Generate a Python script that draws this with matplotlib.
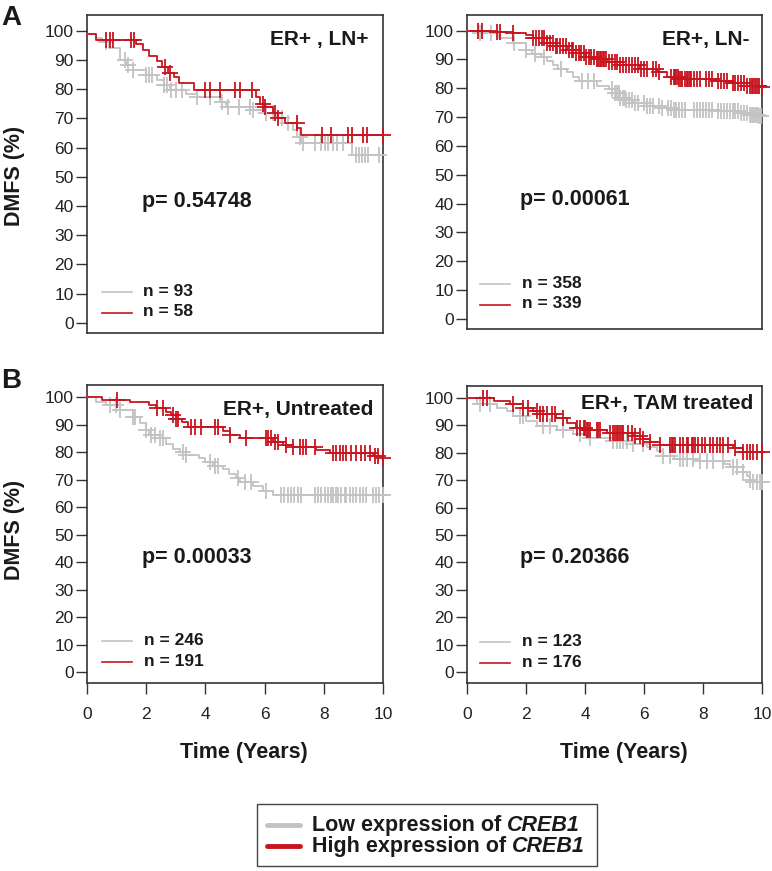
import numpy as np
import matplotlib
matplotlib.use('Agg')
import matplotlib.pyplot as plt
from matplotlib.lines import Line2D
from matplotlib.patches import Rectangle

plt.rcParams['font.family'] = ['Liberation Sans', 'DejaVu Sans']

W, H = 772, 871
fig = plt.figure(figsize=(W / 100, H / 100), dpi=100)

GREY = '#c3c3c3'
RED = '#c8141e'
TXT = '#1a1a1a'
SPINE = '#333333'

# ---------------- data ----------------
titles = ['ER+ , LN+', 'ER+, LN-', 'ER+, Untreated', 'ER+, TAM treated']
pvals = ['0.54748', '0.00061', '0.00033', '0.20366']
n_low = [93, 358, 246, 123]
n_high = [58, 339, 191, 176]
yticks = [0, 10, 20, 30, 40, 50, 60, 70, 80, 90, 100]
xticks = [0, 2, 4, 6, 8, 10]

# Panel A left: ER+, LN+
a1_low_t = [0, 0.3, 0.5, 0.75, 1.1, 1.35, 1.55, 2.0, 2.35, 2.6, 2.8, 3.35, 3.7, 4.5, 4.7, 5.6, 5.95, 6.4, 6.7, 6.95, 7.1, 7.24, 8.95]
a1_low_s = [99, 97.5, 96, 94, 90, 88.2, 86.5, 84.8, 83, 81.4, 79.7, 78.5, 77.2, 75.7, 74.0, 72.8, 71.7, 70.0, 68.3, 66.0, 63.7, 61.4, 57.5]
a1_low_c = [0.65, 1.3, 1.4, 1.55, 2.0, 2.1, 2.2, 2.6, 2.7, 2.85, 3.0, 3.2, 3.7, 4.15, 4.55, 4.75, 5.15, 5.5, 5.6, 6.05, 6.3, 6.6, 6.8, 7.2, 7.3, 7.7, 7.9, 8.05, 8.15, 8.3, 8.45, 8.65, 9.1, 9.2, 9.3, 9.4, 9.5, 9.85]
a1_high_t = [0, 0.3, 1.67, 1.9, 2.1, 2.35, 2.55, 2.75, 2.95, 3.1, 3.6, 5.7, 5.85, 6.0, 6.3, 6.45, 6.7, 7.1, 7.24]
a1_high_s = [99, 97.0, 95.4, 93.4, 91.3, 89.5, 87.5, 85.5, 84.0, 82.0, 79.7, 77.4, 75.0, 74.0, 71.7, 70.0, 68.3, 66.6, 64.3]
a1_high_c = [0.63, 0.77, 0.88, 1.48, 1.58, 2.65, 2.82, 4.0, 4.15, 4.48, 5.0, 5.17, 5.57, 5.93, 6.01, 6.35, 6.45, 7.08, 7.93, 8.26, 8.82, 8.94, 9.33, 9.45, 10.0]

# Panel A right: ER+, LN-
a2_low_t = [0, 0.44, 1.1, 1.57, 2.0, 2.2, 2.5, 2.7, 2.9, 3.1, 3.4, 3.6, 3.8, 4.4, 4.8, 5.0, 5.2, 5.4, 5.64, 6.1, 6.55, 7.0, 8.35, 9.25, 9.6, 9.9]
a2_low_s = [100, 99, 97.4, 95.6, 93.3, 92, 90.9, 89.5, 88, 86.8, 85.6, 84, 82.6, 80.9, 79.6, 78.5, 76.7, 75.8, 75, 73.8, 73.2, 72.6, 72.1, 71.4, 70.8, 70.2]
a2_low_c = [0.45, 0.8, 1.6, 2.0, 2.3, 2.6, 3.2, 3.9, 4.1, 4.3, 4.9, 5.0, 5.1, 5.15, 5.2, 5.3, 5.35, 5.4, 5.5, 5.6, 5.7, 5.8, 6.0, 6.1, 6.2, 6.3, 6.5, 6.6, 6.8, 6.9, 7.0, 7.1, 7.2, 7.3, 7.4, 7.7, 7.8, 7.9, 8.0, 8.1, 8.2, 8.3, 8.5, 8.6, 8.7, 8.8, 8.9, 9.0, 9.1, 9.2, 9.3, 9.4, 9.5, 9.6, 9.65, 9.7, 9.75, 9.8, 9.85, 9.9, 9.95]
a2_high_t = [0, 1.0, 1.57, 2.0, 2.25, 2.7, 3.0, 3.4, 3.7, 4.05, 4.4, 4.73, 5.2, 5.86, 6.43, 6.77, 7.2, 8.35, 9.0, 9.5, 9.93]
a2_high_s = [100, 99.6, 99.2, 98.3, 97.4, 95.6, 94.5, 93.3, 92.1, 90.9, 90.0, 89.1, 88, 86.8, 85.6, 84, 83.2, 82.6, 81.7, 80.9, 80.3]
a2_high_c = [0.38, 0.5, 1.0, 1.12, 1.57, 2.25, 2.35, 2.45, 2.55, 2.62, 2.7, 2.8, 2.9, 3.0, 3.05, 3.15, 3.25, 3.35, 3.45, 3.55, 3.6, 3.7, 3.8, 3.85, 3.95, 4.05, 4.15, 4.2, 4.3, 4.4, 4.45, 4.5, 4.55, 4.6, 4.65, 4.7, 4.8, 4.9, 5.0, 5.1, 5.2, 5.3, 5.4, 5.5, 5.6, 5.7, 5.8, 5.9, 6.0, 6.1, 6.3, 6.4, 6.5, 6.9, 7.0, 7.05, 7.1, 7.15, 7.2, 7.25, 7.3, 7.4, 7.45, 7.5, 7.55, 7.6, 7.7, 7.8, 7.9, 8.1, 8.2, 8.3, 8.5, 8.6, 8.7, 8.8, 9.0, 9.1, 9.2, 9.3, 9.4, 9.5, 9.6, 9.65, 9.7, 9.75, 9.8, 9.85, 9.9, 10.0]

# Panel B left: ER+, Untreated
b1_low_t = [0, 0.3, 0.65, 1.1, 1.55, 1.78, 2.0, 2.1, 2.45, 2.68, 2.9, 3.13, 3.35, 3.8, 4.0, 4.25, 4.6, 4.8, 5.05, 5.16, 5.6, 5.95, 6.28]
b1_low_s = [100, 98.3, 97.1, 95.3, 92.8, 90.4, 88, 86.2, 85, 83.1, 81.3, 80.1, 78.9, 77.7, 76.5, 74.9, 73.7, 72.2, 70.4, 69.2, 67.6, 65.9, 64.4]
b1_low_c = [0.77, 0.99, 1.1, 1.55, 1.61, 2.0, 2.17, 2.29, 2.45, 2.57, 3.24, 3.35, 4.14, 4.31, 4.43, 5.1, 5.33, 5.55, 6.06, 6.56, 6.67, 6.79, 6.9, 7.0, 7.13, 7.24, 7.69, 7.8, 7.92, 8.03, 8.14, 8.25, 8.31, 8.42, 8.48, 8.59, 8.7, 8.76, 8.87, 8.99, 9.1, 9.21, 9.32, 9.44, 9.66, 9.77, 9.88, 10.0]
b1_high_t = [0, 0.5, 1.44, 2.1, 2.34, 2.68, 2.85, 3.0, 3.2, 3.4, 4.6, 4.82, 5.16, 6.28, 6.62, 6.96, 7.75, 8.2, 9.66, 9.98]
b1_high_s = [100, 98.9, 98.3, 97.1, 95.9, 94.7, 93.5, 92.2, 91, 89.2, 87.8, 86.2, 85, 83.8, 82.5, 81.7, 80.7, 79.5, 78.7, 77.7]
b1_high_c = [1.0, 2.35, 2.57, 2.9, 3.0, 3.07, 3.5, 3.64, 3.86, 4.31, 4.42, 4.82, 5.38, 6.06, 6.12, 6.23, 6.34, 6.45, 6.73, 6.96, 7.18, 7.3, 7.41, 7.69, 8.31, 8.42, 8.54, 8.65, 8.76, 8.93, 9.1, 9.27, 9.38, 9.55, 9.72, 9.83, 10.0]

# Panel B right: ER+, TAM treated
b2_low_t = [0, 0.33, 1.0, 1.34, 1.57, 2.0, 2.36, 3.04, 3.6, 4.05, 4.96, 5.64, 6.1, 6.43, 6.65, 7.0, 7.9, 8.7, 8.9, 9.37, 9.49, 9.6, 9.71]
b2_low_s = [100, 97.7, 96.5, 95.3, 93.5, 91.6, 89.8, 88.2, 86.8, 85.6, 84.4, 83.4, 82.2, 80.7, 78.9, 77.7, 77.1, 75.9, 74.7, 73.1, 71.6, 70, 69.2]
b2_low_c = [0.44, 0.78, 1.8, 1.91, 2.59, 2.81, 3.27, 3.83, 4.17, 4.96, 5.07, 5.19, 5.3, 5.41, 5.64, 5.98, 6.65, 6.88, 7.22, 7.33, 7.45, 7.67, 7.9, 8.12, 8.35, 8.69, 9.03, 9.14, 9.37, 9.6, 9.71, 9.83, 9.94, 10.0]
b2_high_t = [0, 0.9, 1.46, 1.9, 2.25, 2.47, 3.0, 3.38, 3.7, 4.05, 4.73, 5.64, 5.98, 6.2, 6.54, 9.03, 9.37]
b2_high_s = [100, 98.9, 97.7, 96.5, 95.3, 94, 92.8, 91, 89.2, 88.2, 87.4, 86.2, 85.2, 84, 82.8, 81.7, 80.4]
b2_high_c = [0.55, 0.67, 1.57, 1.91, 2.08, 2.36, 2.47, 2.59, 2.7, 2.87, 2.98, 3.27, 3.72, 3.83, 3.95, 4.0, 4.06, 4.11, 4.17, 4.4, 4.45, 4.51, 4.85, 4.96, 5.02, 5.07, 5.13, 5.19, 5.24, 5.3, 5.47, 5.58, 5.7, 5.86, 5.98, 6.2, 6.54, 6.88, 6.94, 6.99, 7.05, 7.22, 7.33, 7.45, 7.5, 7.62, 7.67, 7.73, 7.84, 7.95, 8.07, 8.24, 8.35, 8.46, 8.58, 8.69, 8.86, 9.08, 9.37, 9.49, 9.6, 9.71, 9.83, 10.0]

curves = [
    (a1_low_t, a1_low_s, a1_low_c, a1_high_t, a1_high_s, a1_high_c),
    (a2_low_t, a2_low_s, a2_low_c, a2_high_t, a2_high_s, a2_high_c),
    (b1_low_t, b1_low_s, b1_low_c, b1_high_t, b1_high_s, b1_high_c),
    (b2_low_t, b2_low_s, b2_low_c, b2_high_t, b2_high_s, b2_high_c),
]

# ---------------- layout (pixels) ----------------
# (left, right, top, bottom, ymin, ymax)
boxes = [
    (87, 383, 15, 333, -3.5, 105.4),
    (467, 762, 15, 329, -3.5, 105.4),
    (87, 383, 385, 683, -4.0, 104.4),
    (467, 762, 386, 683, -4.0, 104.4),
]
title_pos = [(368, 40), (750, 40), (373, 410), (753, 403)]
p_pos = [(142, 202), (520, 200), (142, 558), (520, 558)]
n_pos = [(143, 291, 312), (522, 283, 304), (144, 640, 661), (522, 641, 662)]
line_x = [(102, 132), (480, 510), (102, 132), (480, 510)]


def P(x, y):
    return x / W, 1 - y / H


def km(ax, t, s, cens, color, z):
    t = np.asarray(t, float)
    s = np.asarray(s, float)
    c = np.asarray(cens, float)
    tend = max(c.max(), t.max())
    tt = np.append(t, tend)
    ss = np.append(s, s[-1])
    ax.step(tt, ss, where='post', color=color, lw=1.3, clip_on=False, zorder=z)
    idx = np.searchsorted(t, c, side='right') - 1
    ax.plot(c, s[idx], ls='none', marker='+', ms=11, mew=1.3, color=color,
            clip_on=False, zorder=z)


for i, (l, r, t, b, y0, y1) in enumerate(boxes):
    ax = fig.add_axes([l / W, 1 - b / H, (r - l) / W, (b - t) / H])
    ax.set_xlim(0, 10)
    ax.set_ylim(y0, y1)
    for sp in ax.spines.values():
        sp.set_color(SPINE)
        sp.set_linewidth(1.2)
    ax.set_yticks(yticks)
    ax.set_xticks(xticks)
    ax.tick_params(axis='both', direction='out', length=8, width=1.0,
                   color=SPINE, labelsize=12.5, labelcolor='#222222')
    ax.tick_params(axis='y', pad=1.5)
    ax.tick_params(axis='x', pad=9)
    if i < 2:
        ax.tick_params(axis='x', bottom=False, labelbottom=False)
    lt, ls_, lc, ht, hs, hc = curves[i]
    km(ax, lt, ls_, lc, GREY, 3)
    km(ax, ht, hs, hc, RED, 4)

    fig.text(*P(*title_pos[i]), titles[i], ha='right', va='center',
             fontsize=15, fontweight='bold', color=TXT)
    fig.text(*P(*p_pos[i]), 'p= ' + pvals[i], ha='left', va='center',
             fontsize=15.5, fontweight='bold', color=TXT)
    nx, ny1, ny2 = n_pos[i]
    fig.text(*P(nx, ny1), 'n = %d' % n_low[i], ha='left', va='center',
             fontsize=12.5, fontweight='bold', color=TXT)
    fig.text(*P(nx, ny2), 'n = %d' % n_high[i], ha='left', va='center',
             fontsize=12.5, fontweight='bold', color=TXT)
    x0, x1 = line_x[i]
    fig.add_artist(Line2D([x0 / W, x1 / W], [1 - (ny1 + 1) / H] * 2,
                          color=GREY, lw=1.2, transform=fig.transFigure))
    fig.add_artist(Line2D([x0 / W, x1 / W], [1 - (ny2 + 1) / H] * 2,
                          color=RED, lw=1.2, transform=fig.transFigure))

# panel letters
fig.text(*P(1, 18), 'A', ha='left', va='center', fontsize=20, fontweight='bold', color=TXT)
fig.text(*P(1, 381), 'B', ha='left', va='center', fontsize=20, fontweight='bold', color=TXT)

# axis labels
for yc in (176, 530):
    fig.text(*P(15, yc), 'DMFS (%)', rotation=90, ha='center', va='center',
             fontsize=15.5, fontweight='bold', color=TXT)
for xc in (244, 624):
    fig.text(*P(xc, 752), 'Time (Years)', ha='center', va='center',
             fontsize=15.5, fontweight='bold', color=TXT)

# bottom legend
fig.add_artist(Rectangle(P(257, 866), 340 / W, 62 / H, transform=fig.transFigure,
                         fill=False, edgecolor='#444444', lw=1.0))
leg_rows = [(825, GREY, 'Low expression of'), (846, RED, 'High expression of')]
fig.canvas.draw()
renderer = fig.canvas.get_renderer()
for y, col, lab in leg_rows:
    fig.add_artist(Line2D([267 / W, 300 / W], [1 - y / H] * 2, color=col, lw=3.5,
                          solid_capstyle='round', transform=fig.transFigure))
    t1 = fig.text(*P(312, y), lab, ha='left', va='center', fontsize=15.5,
                  fontweight='bold', color=TXT)
    bb = t1.get_window_extent(renderer=renderer)
    fig.text((bb.x1 + 6) / W, 1 - y / H, 'CREB1', ha='left', va='center',
             fontsize=15.5, fontweight='bold', fontstyle='italic', color=TXT)

fig.savefig('out.png', dpi=100)
